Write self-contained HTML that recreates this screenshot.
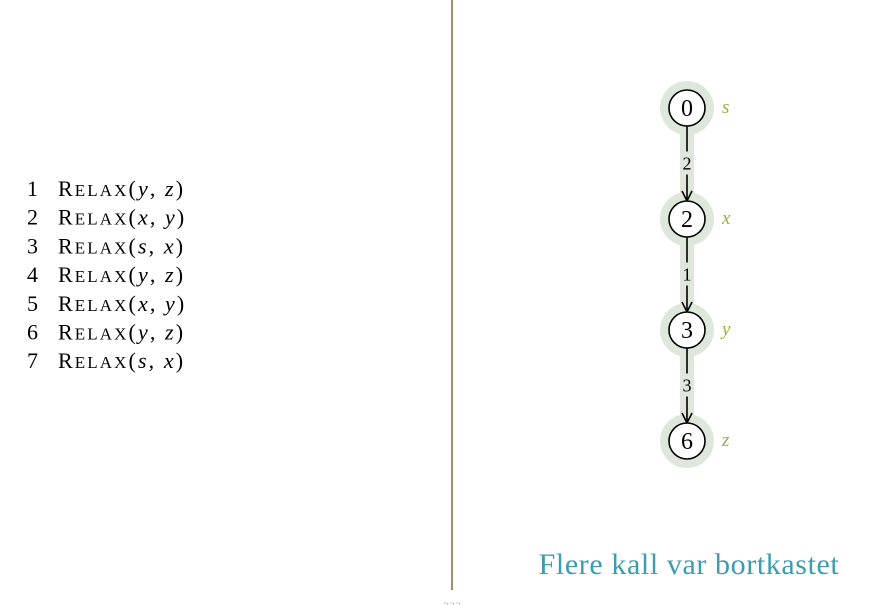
<!DOCTYPE html>
<html><head><meta charset="utf-8"><style>
body{margin:0;background:#fff;width:888px;height:605px;overflow:hidden}
svg{display:block}
text{font-family:"Liberation Serif",serif}
</style></head><body>
<svg width="888" height="605">
<line x1="452" y1="0" x2="452" y2="590" stroke="#a88c68" stroke-width="2"/>
<g id="code"></g>
<g id="graph"></g>
<text x="689" y="574" font-size="30" letter-spacing="0.6" fill="#3a9db0" text-anchor="middle">Flere kall var bortkastet</text>
<text x="452" y="610" font-size="12" fill="#bbb" text-anchor="middle">233</text>
</svg>
<script>
const calls=[["y","z"],["x","y"],["s","x"],["y","z"],["x","y"],["y","z"],["s","x"]];
const nodeVals=["0","2","3","6"];
const nodeNames=["s","x","y","z"];
const weights=["2","1","3"];
const NS="http://www.w3.org/2000/svg";
function mk(t,a,p){const e=document.createElementNS(NS,t);for(const k in a)e.setAttribute(k,a[k]);p.appendChild(e);return e;}
const code=document.getElementById('code');
calls.forEach((c,i)=>{const y=196+i*28.7;
 const n=mk('text',{x:27,y:y,'font-size':22},code);n.textContent=(i+1);
 
 
 const t=mk('text',{x:58,y:y,'font-size':22,'letter-spacing':'2.1'},code);
 
 
 t.innerHTML='R<tspan font-size="17">ELAX</tspan>(<tspan font-style="italic">'+c[0]+'</tspan>,  <tspan font-style="italic">'+c[1]+'</tspan>)';
 t.setAttribute('xml:space','preserve');
});
const g=document.getElementById('graph');
const cx=687,y0=108,dy=111;
const yy=i=>y0+i*dy;
mk('line',{x1:cx,y1:yy(0),x2:cx,y2:yy(nodeVals.length-1),stroke:'#dfe6dc','stroke-width':14},g);
nodeVals.forEach((v,i)=>{mk('circle',{cx:cx,cy:yy(i),r:27,fill:'#dfe6dc'},g);});
weights.forEach((w,i)=>{const a=yy(i)+18,b=yy(i+1)-18,m=(a+b)/2;
 const l=mk('line',{x1:cx,y1:a,x2:cx,y2:m-12,stroke:'#000','stroke-width':1.6},g);
 
 
 mk('line',{x1:cx,y1:m+11,x2:cx,y2:b-2,stroke:'#000','stroke-width':1.6},g);
 mk('path',{d:`M${cx-5},${b-10} L${cx},${b} L${cx+5},${b-10}`,fill:'none',stroke:'#000','stroke-width':1.6},g);
 const t=mk('text',{x:cx,y:m+6,'font-size':18,'text-anchor':'middle'},g);t.textContent=w;
 
 
});
nodeVals.forEach((v,i)=>{const y=yy(i);
 const c=mk('circle',{cx:cx,cy:y,r:18,fill:'#fff',stroke:'#000','stroke-width':1.6},g);
 
 
 const t=mk('text',{x:cx,y:y+8,'font-size':24,'text-anchor':'middle'},g);t.textContent=v;
 
 
 const n=mk('text',{x:cx+35,y:y+5,'font-size':19,'font-style':'italic',fill:'#9aae3c'},g);n.textContent=nodeNames[i];
 
 
});
</script>
</body></html>
